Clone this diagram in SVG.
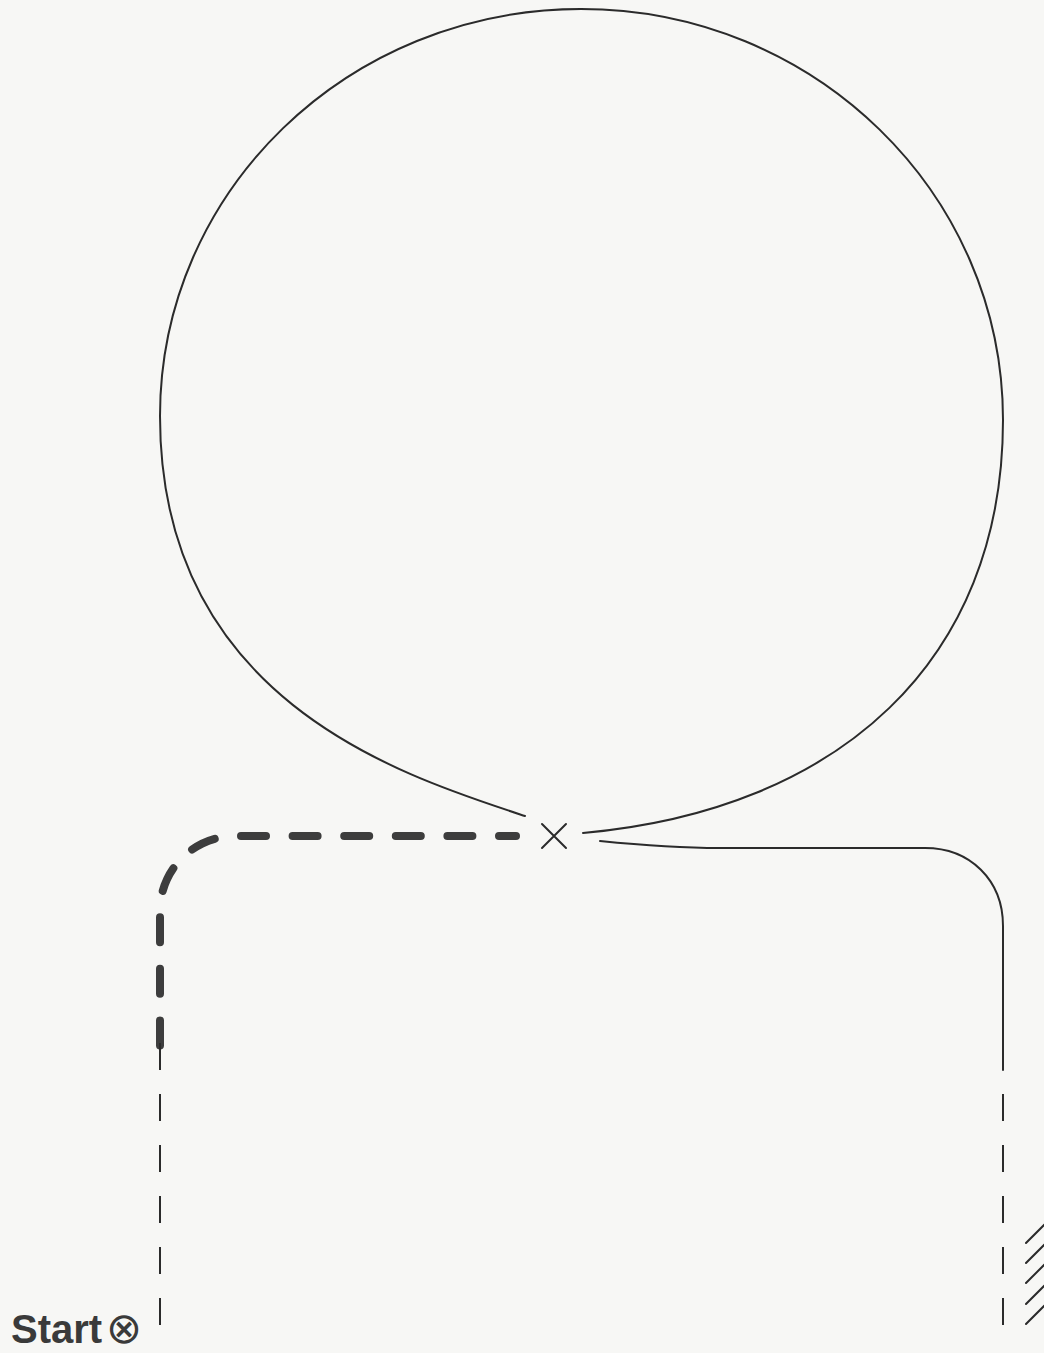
<svg xmlns="http://www.w3.org/2000/svg" width="1044" height="1353" viewBox="0 0 1044 1353">
  <style>
    .line { fill: none; stroke: #2b2b2b; stroke-width: 2; stroke-linecap: round; stroke-linejoin: round; }
    .thin-dash { fill: none; stroke: #2b2b2b; stroke-width: 2; stroke-dasharray: 27 24; }
    .thick-dash { fill: none; stroke: #3d3d3d; stroke-width: 8; stroke-linecap: round; stroke-dasharray: 25 26.6; stroke-dashoffset: 8; }
    .label { font-family: "Liberation Sans", Arial, sans-serif; font-weight: bold; fill: #3a3a3a; }
    .symbol { font-family: "DejaVu Sans", sans-serif; fill: #3a3a3a; text-anchor: middle; }
  </style>
  <rect x="0" y="0" width="1044" height="1353" fill="#f7f7f5"/>

  <g id="connectors">
    <path id="loop" class="line" d="M 525,816 C 400,775 160,700 160,416 C 160,191 348,9 581,9 C 814,9 1003,193 1003,420 C 1003,660 840,810 583,833"/>
    <path id="right-track" class="line" d="M 600,841 C 640,845 680,848 720,848 L 925,848 C 970,848 1003,880 1003,926 L 1003,1070"/>
    <path id="right-dashed" class="thin-dash" d="M 1003,1094 L 1003,1326"/>
    <path id="left-thick" class="thick-dash" d="M 516,836 L 235,836 A 75 75 0 0 0 160,911 L 160,1046"/>
    <path id="left-thin" class="thin-dash" d="M 160,1043 L 160,1326"/>
  </g>

  <g id="junction">
    <path class="line" d="M 542,824 L 566,848 M 542,848 L 566,824"/>
  </g>

  <g id="hatch">
    <path class="line" d="M 1026,1243 L 1050,1219 M 1026,1263 L 1050,1239 M 1026,1283 L 1050,1259 M 1026,1304 L 1050,1280 M 1026,1324 L 1050,1300"/>
  </g>

  <g id="start">
    <text class="label" x="11" y="1343" font-size="40">Start</text>
    <text class="symbol" x="124" y="1343" font-size="43">⊗</text>
  </g>
</svg>
